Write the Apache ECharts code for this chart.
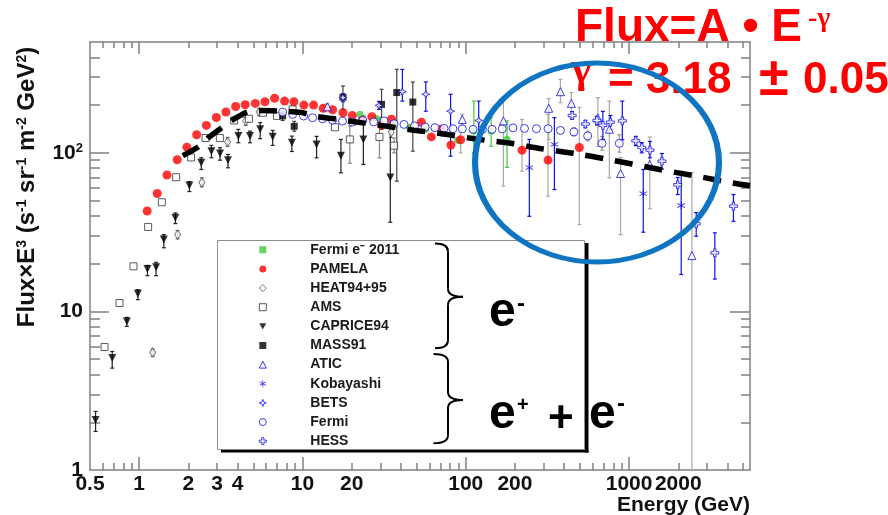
<!DOCTYPE html>
<html><head><meta charset="utf-8">
<script src="https://cdn.jsdelivr.net/npm/echarts@6/dist/echarts.min.js"></script>
<style>html,body{margin:0;padding:0;background:#fff}#c{width:888px;height:515px}</style>
</head><body><div id="c"></div>
<script>
// ---------------- axis ranges / ticks ----------------
const X_MIN = 0.5, X_MAX = 5500, Y_MIN = 1, Y_MAX = 500;
const xLabelVals = [0.5, 1, 2, 3, 4, 10, 20, 100, 200, 1000, 2000];
const xLabelText = ['0.5', '1', '2', '3', '4', '10', '20', '100', '200', '1000', '2000'];
const xMajorTicks = [1, 10, 100, 1000];
const xMinorTicks = [0.6, 0.7, 0.8, 0.9, 2, 3, 4, 5, 6, 7, 8, 9, 20, 30, 40, 50, 60, 70, 80, 90,
  200, 300, 400, 500, 600, 700, 800, 900, 2000, 3000, 4000, 5000];
const yLabelVals = [1, 10, 100];
const yLabelText = ['1', '10', '{b|10}{s|2}'];
const yMajorTicks = [10, 100];
const yMinorTicks = [2, 3, 4, 5, 6, 7, 8, 9, 20, 30, 40, 50, 60, 70, 80, 90, 200, 300, 400];

// ---------------- data (E in GeV, Flux x E^3) ----------------
const fermiE11_E = [22.5, 28.4, 35.9, 45.1, 56.8, 71.8, 89.1, 112, 143, 179];
const fermiE11_F = [175, 164, 153, 145, 141, 133, 120, 138, 137, 122];
const fermiE11_lo = [null, null, null, null, null, null, null, 100, 110, 81];
const fermiE11_hi = [null, null, null, null, null, null, null, 212, 167, 159];

const pamela_E = [1.12, 1.29, 1.48, 1.71, 1.96, 2.25, 2.58, 2.97, 3.40, 3.90, 4.46, 5.14, 5.89, 6.75, 7.77, 8.86,
  10.2, 11.7, 13.4, 15.3, 17.7, 20.2, 23.2, 26.6, 30.5, 35.1, 53.5, 61.5, 70.8, 81.1, 93.0, 221, 319, 496];
const pamela_F = [43.0, 55.4, 72.5, 90.5, 108.6, 130, 149, 167, 181, 196, 201, 205, 210, 221, 212, 210,
  200, 200, 191, 187, 179, 172, 160, 169, 150, 163, 156, 126, 141, 112, 121, 104, 90, 108];
const pamela_lo = [null, null, null, null, null, null, null, null, null, null, null, null, null, null, null, null,
  null, null, null, null, null, null, null, null, null, null, null, null, null, null, 100, 76.6, 53.3, 35.3];
const pamela_hi = [null, null, null, null, null, null, null, null, null, null, null, null, null, null, null, null,
  null, null, null, null, null, null, null, null, null, null, null, null, null, null, 137, 162.5, 174.8, 193.6];

const heat_E = [1.21, 1.72, 2.42, 3.48, 4.49, 5.44, 34.9];
const heat_F = [5.51, 30.5, 65.0, 117, 159, 181, 135];
const heat_lo = [5.20, 28.7, 61.1, 110, 149, 172, 125];
const heat_hi = [5.79, 32.3, 69.6, 125, 167, 190, 146];

const ams_E = [0.614, 0.758, 0.923, 1.135, 1.376, 1.684, 2.079, 2.55, 3.12, 3.82, 4.70, 5.73, 6.98, 8.70, 15.8, 19.5, 29.6, 36.4];
const ams_F = [5.96, 11.3, 19.25, 34.1, 48.8, 70.2, 93.5, 124, 124, 160, 164, 179, 171, 188, 145, 121.5, 126, 111];
const ams_lo = [null, null, null, null, null, null, null, null, null, null, null, null, null, null, null, 86, 93, 100];
const ams_hi = [null, null, null, null, null, null, null, null, null, null, null, null, null, null, null, 147, 167, 124];

const caprice_E = [0.541, 0.684, 0.841, 0.982, 1.124, 1.27, 1.416, 1.667, 2.03, 2.40, 2.77, 3.13, 3.50, 4.05, 4.77,
  5.51, 6.57, 8.61, 12.2, 17.2, 23.6, 34.5];
const caprice_F = [2.07, 5.08, 8.65, 12.94, 18.5, 19.0, 28.4, 38.9, 62.2, 86.6, 102.5, 99.1, 89.9, 127.5, 127.5,
  140.6, 126.4, 115.8, 113, 95.9, 121.5, 69.9];
const caprice_lo = [1.75, 4.39, 8.04, 11.86, 16.8, 16.8, 25.2, 35.8, 57.0, 78.5, 93.1, 89.9, 80.5, 115.8, 115.8,
  122.8, 111.4, 102, 93.1, 74.8, 84.5, 36.5];
const caprice_hi = [2.34, 5.59, 9.17, 13.71, 19.5, 20.4, 30.5, 41.8, 65.9, 93.1, 111.4, 107.7, 97.7, 140.6, 137.1,
  154.9, 138.5, 127.5, 127, 121.5, 170.6, 153];

const mass_E = [7.56, 8.90, 17.7, 30.5, 37.8, 47.4];
const mass_F = [171, 147, 224, 202, 240, 209];
const mass_lo = [160, 137, 188, 140.6, 66.3, 102.5];
const mass_hi = [183, 158, 264, 251.5, 336.5, 279.6];

const atic_E = [14.2, 95.2, 170, 322, 380, 443, 644, 757, 887, 1338, 2424];
const atic_F = [195, 162.5, 159, 191, 243, 205, 166, 141, 74.1, 84.5, 22.5];
const atic_lo = [185, 150, 61.6, 121.5, 207, 166.6, 110, 69.6, 30.5, 44.4, 1.0];
const atic_hi = [205, 175, 212, 220, 291, 240, 223, 212, 93.5, 125.7, 75.2];

const kob_E = [245, 349, 1221, 2085];
const kob_F = [80.5, 113, 55.2, 46.5];
const kob_lo = [39.8, 58.7, 31.6, 17.1];
const kob_hi = [121.5, 166.6, 78.5, 76.3];

const bets_E = [17.7, 29.4, 40.9, 56.9, 80.7, 120];
const bets_F = [223, 199, 243, 234, 183, 160];
const bets_lo = [210, 188, 212, 183, 95.3, 116];
const bets_hi = [236, 211, 336, 280, 234, 212];

const fermi_E = [7.56, 8.70, 10.16, 11.53, 13.27, 15.28, 17.59, 20.24, 23.39, 27.32, 31.58, 36.36, 41.84, 48.6, 56.4,
  64.7, 73.5, 83.4, 95.2, 110.8, 126.6, 144.8, 167.1, 194.6, 228.8, 270.9, 319.3, 379.7, 459.2, 557.5, 683, 871];
const fermi_F = [180.7, 174.8, 170.6, 166.6, 163.8, 160.9, 158.6, 156.3, 160.2, 156.7, 159.0, 152.7, 151.1, 147.9, 145.3,
  144.1, 142.6, 142.0, 141.6, 140.6, 140.6, 140.6, 141.6, 143.7, 142.6, 142.0, 142.0, 138.5, 135.5, 127.9, 114.7, 114.7];
const fermi_lo = [null, null, null, null, null, null, null, null, null, null, null, null, null, null, null,
  null, null, null, null, null, null, null, null, null, null, null, null, null, 128, 119, 104, 101];
const fermi_hi = [null, null, null, null, null, null, null, null, null, null, null, null, null, null, null,
  null, null, null, null, null, null, null, null, null, null, null, null, null, 144, 137, 127, 130];

const hess_E = [448, 540, 635, 691, 768, 909, 1099, 1196, 1342, 1589, 1985, 2576, 3350, 4355];
const hess_F = [172, 152, 160, 149, 156, 159, 119, 108, 104, 88.6, 62.9, 35.7, 23.4, 46.1];
const hess_lo = [163, 144, 150, 121.5, 140, 121, 111, 100, 93, 79, 54.6, 29.8, 16.0, 37.0];
const hess_hi = [182, 160, 170, 182.6, 172, 212, 127, 116, 118, 99, 69.9, 42.0, 31.3, 54.6];

// dashed fit  Flux = A * E^-gamma
const fit_E = [1.85, 2.33, 2.69, 3.29, 3.91, 4.83, 5.5, 7.8, 9.8, 12, 15, 19.2, 30, 48, 75, 117, 188, 293, 470, 700,
  1040, 1700, 2650, 4300, 5500];
const fit_F = [96, 110, 126, 147, 166, 184, 185, 183, 180, 170, 165, 159, 149, 139, 131, 122, 115, 106, 99, 92,
  85, 77, 71, 64.5, 62];

// ---------------- helpers ----------------
const FONT = '"Liberation Sans", Arial, Helvetica, sans-serif';
const SERIF = '"Liberation Serif", "Times New Roman", serif';
const AX = '#808080';
const BLUE = '#1010e6';
const lg = Math.log10;

function pts(E, F) { return E.map((e, i) => [e, F[i]]); }
function errs(E, lo, hi) {
  const out = [];
  E.forEach((e, i) => { if (lo[i] != null && hi[i] != null) out.push([e, lo[i], hi[i]]); });
  return out;
}
function errSeries(name, E, lo, hi, color) {
  return {
    type: 'custom', name: name, xAxisIndex: 0, yAxisIndex: 0, z: 2, clip: true, silent: true,
    data: errs(E, lo, hi), encode: { x: 0, y: [1, 2] },
    renderItem: function (params, api) {
      const x = api.value(0);
      const p1 = api.coord([x, api.value(1)]), p2 = api.coord([x, api.value(2)]);
      const st = { stroke: color, lineWidth: 1.2 };
      return { type: 'group', children: [
        { type: 'line', shape: { x1: p1[0], y1: p1[1], x2: p2[0], y2: p2[1] }, style: st },
        { type: 'line', shape: { x1: p1[0] - 2, y1: p1[1], x2: p1[0] + 2, y2: p1[1] }, style: st },
        { type: 'line', shape: { x1: p2[0] - 2, y1: p2[1], x2: p2[0] + 2, y2: p2[1] }, style: st }
      ] };
    }
  };
}
function scat(name, E, F, symbol, size, itemStyle, rot) {
  return { type: 'scatter', name: name, xAxisIndex: 0, yAxisIndex: 0, z: 3, data: pts(E, F),
    symbol: symbol, symbolSize: size, symbolRotate: rot || 0, itemStyle: itemStyle };
}
const TRI_DOWN = 'path://M0,0L10,0L5,9Z';
const ASTER = 'path://M4.4,0h1.2v3.9l3.4-2l0.6,1l-3.4,2l3.4,2l-0.6,1l-3.4-2V10h-1.2V5.9l-3.4,2l-0.6-1l3.4-2l-3.4-2l0.6-1l3.4,2z';
const STAR4 = 'path://M5,0L6.4,3.6L10,5L6.4,6.4L5,10L3.6,6.4L0,5L3.6,3.6Z';
const CROSS = 'path://M3.5,0H6.5V3.5H10V6.5H6.5V10H3.5V6.5H0V3.5H3.5Z';

function xAux(pos, ticks, len, line, labels) {
  return {
    type: 'value', position: pos, min: lg(X_MIN), max: lg(X_MAX), offset: 0,
    axisLine: { show: line, onZero: false, lineStyle: { color: AX, width: 1.5 } },
    axisTick: { show: true, inside: true, length: len, customValues: ticks.map(lg), lineStyle: { color: AX, width: 1.5 } },
    axisLabel: labels ? {
      show: true, customValues: xLabelVals.map(lg), margin: 4, color: '#111',
      fontFamily: FONT, fontSize: 21, fontWeight: 'bold',
      formatter: function (v) {
        for (let i = 0; i < xLabelVals.length; i++) if (Math.abs(lg(xLabelVals[i]) - v) < 1e-6) return xLabelText[i];
        return '';
      }
    } : { show: false },
    splitLine: { show: false }
  };
}
function yAux(pos, ticks, len, line, labels) {
  return {
    type: 'value', position: pos, min: lg(Y_MIN), max: lg(Y_MAX), offset: 0,
    axisLine: { show: line, onZero: false, lineStyle: { color: AX, width: 1.5 } },
    axisTick: { show: true, inside: true, length: len, customValues: ticks.map(lg), lineStyle: { color: AX, width: 1.5 } },
    axisLabel: labels ? {
      show: true, customValues: yLabelVals.map(lg), margin: 7, color: '#111',
      fontFamily: FONT, fontSize: 21, fontWeight: 'bold',
      rich: {
        b: { fontFamily: FONT, fontSize: 21, fontWeight: 'bold', color: '#111' },
        s: { fontFamily: FONT, fontSize: 13, fontWeight: 'bold', color: '#111', verticalAlign: 'top' }
      },
      formatter: function (v) {
        for (let i = 0; i < yLabelVals.length; i++) if (Math.abs(lg(yLabelVals[i]) - v) < 1e-6) return yLabelText[i];
        return '';
      }
    } : { show: false },
    splitLine: { show: false }
  };
}
function brace(xe, xs, xt, y0, y1, ym) {
  const st = { stroke: '#000', lineWidth: 2, fill: 'none' };
  const mk = (o) => Object.assign({ z: 6, style: st }, o);
  return [
    mk({ type: 'bezierCurve', shape: { x1: xe, y1: y0, cpx1: xs, cpy1: y0, x2: xs, y2: y0 + 8 } }),
    mk({ type: 'line', shape: { x1: xs, y1: y0 + 8, x2: xs, y2: ym - 8 } }),
    mk({ type: 'bezierCurve', shape: { x1: xs, y1: ym - 8, cpx1: xs, cpy1: ym, x2: xt, y2: ym } }),
    mk({ type: 'bezierCurve', shape: { x1: xt, y1: ym, cpx1: xs, cpy1: ym, x2: xs, y2: ym + 8 } }),
    mk({ type: 'line', shape: { x1: xs, y1: ym + 8, x2: xs, y2: y1 - 8 } }),
    mk({ type: 'bezierCurve', shape: { x1: xs, y1: y1 - 8, cpx1: xs, cpy1: y1, x2: xe, y2: y1 } })
  ];
}

const chart = echarts.init(document.getElementById('c'), null, { renderer: 'canvas' });
const openStyle = (c) => ({ color: '#fff', borderColor: c, borderWidth: 1 });

const option = {
  animation: false,
  backgroundColor: '#fff',
  grid: { left: 90, right: 138, top: 42, bottom: 45, containLabel: false },
  xAxis: [
    { type: 'log', min: X_MIN, max: X_MAX, show: false },
    xAux('bottom', xMajorTicks, 13, true, true),
    xAux('bottom', xMinorTicks, 7, false, false),
    xAux('top', xMajorTicks, 12, true, false),
    xAux('top', xMinorTicks, 6, false, false)
  ],
  yAxis: [
    { type: 'log', min: Y_MIN, max: Y_MAX, show: false },
    yAux('left', yMajorTicks, 19, true, true),
    yAux('left', yMinorTicks, 10, false, false),
    yAux('right', yMajorTicks, 20, true, false),
    yAux('right', yMinorTicks, 9, false, false)
  ],
  legend: {
    orient: 'vertical', left: 258.8, top: 240.2, padding: 0, itemWidth: 7, itemHeight: 7, itemGap: 0,
    selectedMode: false, z: 4,
    itemStyle: { borderWidth: 1 },
    textStyle: { fontFamily: FONT, fontSize: 14, fontWeight: 'bold', color: '#1a1a1a', lineHeight: 19.14, padding: [0, 0, 0, 39] },
    data: [
      { name: 'Fermi e⁻ 2011', icon: 'rect' },
      { name: 'PAMELA', icon: 'circle' },
      { name: 'HEAT94+95', icon: 'diamond' },
      { name: 'AMS', icon: 'rect' },
      { name: 'CAPRICE94', icon: TRI_DOWN },
      { name: 'MASS91', icon: 'rect' },
      { name: 'ATIC', icon: 'triangle' },
      { name: 'Kobayashi', icon: ASTER },
      { name: 'BETS', icon: STAR4 },
      { name: 'Fermi', icon: 'circle' },
      { name: 'HESS', icon: CROSS }
    ]
  },
  series: [
    errSeries('e1', fermiE11_E, fermiE11_lo, fermiE11_hi, '#3ec83e'),
    errSeries('e2', pamela_E, pamela_lo, pamela_hi, '#a8a8a8'),
    errSeries('e3', heat_E, heat_lo, heat_hi, '#666'),
    errSeries('e4', ams_E, ams_lo, ams_hi, '#888'),
    errSeries('e5', caprice_E, caprice_lo, caprice_hi, '#222'),
    errSeries('e6', mass_E, mass_lo, mass_hi, '#444'),
    errSeries('e7', atic_E, atic_lo, atic_hi, '#a8a8a8'),
    errSeries('e8', kob_E, kob_lo, kob_hi, BLUE),
    errSeries('e9', bets_E, bets_lo, bets_hi, BLUE),
    errSeries('e10', fermi_E, fermi_lo, fermi_hi, '#9a9a9a'),
    errSeries('e11', hess_E, hess_lo, hess_hi, BLUE),
    scat('Fermi e⁻ 2011', fermiE11_E, fermiE11_F, 'circle', 7, { color: '#3ec83e' }),
    scat('PAMELA', pamela_E, pamela_F, 'circle', 9, { color: '#ff0000' }),
    scat('HEAT94+95', heat_E, heat_F, 'diamond', [6, 9], openStyle('#555')),
    scat('AMS', ams_E, ams_F, 'rect', 7, openStyle('#333')),
    scat('CAPRICE94', caprice_E, caprice_F, 'triangle', 8, { color: '#000' }, 180),
    scat('MASS91', mass_E, mass_F, 'rect', 7, { color: '#000' }),
    scat('ATIC', atic_E, atic_F, 'triangle', 8, openStyle(BLUE)),
    scat('Kobayashi', kob_E, kob_F, ASTER, 8, { color: BLUE }),
    scat('BETS', bets_E, bets_F, STAR4, 8, openStyle(BLUE)),
    scat('Fermi', fermi_E, fermi_F, 'circle', 8, openStyle(BLUE)),
    scat('HESS', hess_E, hess_F, CROSS, 8, openStyle(BLUE)),
    {
      type: 'line', name: 'fit', xAxisIndex: 0, yAxisIndex: 0, z: 4, data: pts(fit_E, fit_F),
      showSymbol: false, symbol: 'none', smooth: 0.3, silent: true,
      lineStyle: { color: '#000', width: 5.5, type: [18, 12], cap: 'butt' }
    }
  ],
  graphic: [
    // legend box with shadow
    { type: 'rect', z: 3, shape: { x: 217.5, y: 240.5, width: 367, height: 209 }, style: { fill: '#fff', stroke: '#8c8c8c', lineWidth: 1 } },
    { type: 'rect', z: 3, shape: { x: 585, y: 243, width: 3.5, height: 209.5 }, style: { fill: '#000' } },
    { type: 'rect', z: 3, shape: { x: 221, y: 450, width: 367.5, height: 2.5 }, style: { fill: '#000' } },
    // braces
    ...brace(435, 448, 463, 243.5, 348.3, 296.7),
    ...brace(433.5, 448, 463, 354, 443.3, 400),
    // e-  and  e+ + e-
    { type: 'text', z: 6, x: 489, y: 313, style: { text: 'e', font: 'bold 48px ' + FONT, fill: '#000', verticalAlign: 'middle' } },
    { type: 'text', z: 6, x: 517, y: 304, style: { text: '-', font: 'bold 24px ' + FONT, fill: '#000', verticalAlign: 'middle' } },
    { type: 'text', z: 6, x: 489, y: 415, style: { text: 'e', font: 'bold 48px ' + FONT, fill: '#000', verticalAlign: 'middle' } },
    { type: 'text', z: 6, x: 517, y: 405, style: { text: '+', font: 'bold 20px ' + FONT, fill: '#000', verticalAlign: 'middle' } },
    { type: 'text', z: 6, x: 548, y: 420, style: { text: '+', font: 'bold 44px ' + FONT, fill: '#000', verticalAlign: 'middle' } },
    { type: 'text', z: 6, x: 589, y: 415, style: { text: 'e', font: 'bold 48px ' + FONT, fill: '#000', verticalAlign: 'middle' } },
    { type: 'text', z: 6, x: 617, y: 404, style: { text: '-', font: 'bold 24px ' + FONT, fill: '#000', verticalAlign: 'middle' } },
    // formula
    { type: 'text', z: 6, x: 575, y: 28.7, style: { text: 'Flux=A • E', font: 'bold 46px ' + FONT, fill: '#ff0000', verticalAlign: 'middle' } },
    { type: 'text', z: 6, x: 808, y: 19, style: { text: '-γ', font: 'bold 28px ' + SERIF, fill: '#ff0000', verticalAlign: 'middle' } },
    { type: 'text', z: 6, x: 571, y: 71, style: { text: 'γ', font: 'bold 44px ' + SERIF, fill: '#ff0000', verticalAlign: 'middle' } },
    { type: 'text', z: 6, x: 608, y: 81.3, style: { text: '= 3.18', font: 'bold 44px ' + FONT, fill: '#ff0000', verticalAlign: 'middle' } },
    { type: 'text', z: 6, x: 759, y: 80, style: { text: '±', font: 'bold 54px ' + FONT, fill: '#ff0000', verticalAlign: 'middle' } },
    { type: 'text', z: 6, x: 803, y: 81.3, style: { text: '0.05', font: 'bold 44px ' + FONT, fill: '#ff0000', verticalAlign: 'middle' } },
    // ellipse
    { type: 'circle', z: 10, x: 597, y: 162.5, scaleX: 122 / 99.5, scaleY: 1, shape: { cx: 0, cy: 0, r: 99.5 },
      style: { fill: 'none', stroke: '#0f75c3', lineWidth: 5, strokeNoScale: true } },
    // axis titles
    { type: 'text', z: 6, x: 27, y: 187, rotation: Math.PI / 2,
      style: { text: '{t|Flux×E}{s|3}{t| (s}{s|-1}{t| sr}{s|-1}{t| m}{s|-2}{t| GeV}{s|2}{t|)}',
        align: 'center', verticalAlign: 'middle',
        rich: { t: { fontFamily: FONT, fontSize: 24, fontWeight: 'bold', fill: '#111' },
                s: { fontFamily: FONT, fontSize: 14, fontWeight: 'bold', fill: '#111', verticalAlign: 'top' } } } },
    { type: 'text', z: 6, x: 750, y: 505, style: { text: 'Energy (GeV)', font: 'bold 21px ' + FONT, fill: '#111', align: 'right', verticalAlign: 'middle' } }
  ]
};
chart.setOption(option);
</script></body></html>
